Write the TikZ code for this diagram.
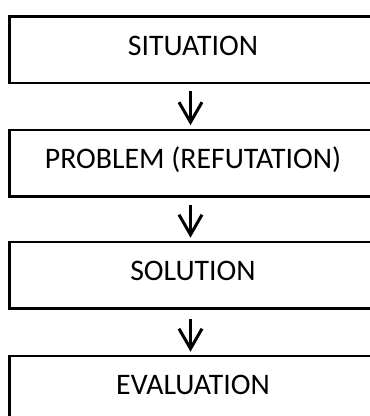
\documentclass[tikz,border=0pt]{standalone}
\usepackage{fontspec}
\setmainfont{Carlito}
\usetikzlibrary{arrows.meta}
\begin{document}
\begin{tikzpicture}[x=1pt,y=-1pt,
  stagebox/.style={draw=black,line width=2.6pt,minimum width=366.6pt,minimum height=66.5pt,inner sep=0pt,anchor=north},
  stagetext/.style={anchor=base,inner sep=0pt,font=\fontsize{29.8}{34}\selectfont},
  flowarrow/.style={line width=3pt,-{Straight Barb[length=20pt,width=23pt,line width=3pt]}}]
\useasboundingbox (0,0) rectangle (370,416);
\clip (0,0) rectangle (370,416);
\fill[white] (0,0) rectangle (370,416);
\node[stagebox] (s1) at (193,15) {};
\node[stagebox] (s2) at (193,128.7) {};
\node[stagebox] (s3) at (193,240.7) {};
\node[stagebox] (s4) at (193,354.7) {};
\node[stagetext] (t1) at (193,55) {SITUATION};
\node[stagetext] (t2) at (193,168.2) {PROBLEM (REFUTATION)};
\node[stagetext] (t3) at (193,280.7) {SOLUTION};
\node[stagetext] (t4) at (193,394.5) {EVALUATION};
\draw[flowarrow] ([xshift=-2.5pt,yshift=-7pt]s1.south) -- ([xshift=-2.5pt,yshift=3.5pt]s2.north);
\draw[flowarrow] ([xshift=-2.5pt,yshift=-7pt]s2.south) -- ([xshift=-2.5pt,yshift=3pt]s3.north);
\draw[flowarrow] ([xshift=-2.5pt,yshift=-9pt]s3.south) -- ([xshift=-2.5pt,yshift=3pt]s4.north);
\end{tikzpicture}
\end{document}
